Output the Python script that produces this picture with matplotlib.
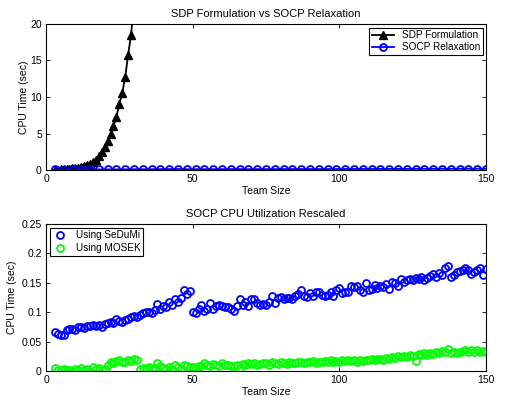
import matplotlib
matplotlib.use("Agg")
import matplotlib.pyplot as plt
from matplotlib.ticker import FuncFormatter

plt.rcParams['font.family'] = ['Liberation Sans', 'DejaVu Sans']

# top panel data
sdp_x = list(range(3, 31))
sdp_t = [0.05, 0.06, 0.08, 0.12, 0.15, 0.18, 0.22, 0.27, 0.33, 0.40, 0.50,
         0.65, 0.85, 1.1, 1.4, 1.9, 2.5, 3.2, 4.0, 4.9, 6.0, 7.3, 9.0, 10.6,
         12.7, 15.8, 18.5, 23.0]
socp_x = list(range(3, 151, 3))
socp_t = [0.07, 0.06, 0.07, 0.07, 0.08, 0.08, 0.08, 0.09, 0.09, 0.10,
          0.10, 0.11, 0.12, 0.12, 0.14, 0.10, 0.11, 0.11, 0.11, 0.11,
          0.12, 0.12, 0.11, 0.12, 0.12, 0.12, 0.13, 0.13, 0.13, 0.13,
          0.13, 0.13, 0.14, 0.14, 0.14, 0.14, 0.14, 0.15, 0.15, 0.15,
          0.15, 0.16, 0.16, 0.16, 0.17, 0.16, 0.17, 0.17, 0.17, 0.17]

# bottom panel data
team = list(range(3, 151))
sedumi = [0.067, 0.063, 0.061, 0.062, 0.069, 0.071, 0.072, 0.070, 0.074, 0.075,
          0.073, 0.077, 0.076, 0.078, 0.076, 0.079, 0.075, 0.080, 0.082, 0.083,
          0.081, 0.089, 0.085, 0.083, 0.086, 0.089, 0.091, 0.094, 0.092, 0.096,
          0.098, 0.101, 0.100, 0.099, 0.104, 0.114, 0.106, 0.110, 0.108, 0.118,
          0.113, 0.122, 0.118, 0.125, 0.138, 0.131, 0.136,
          0.100, 0.098, 0.105, 0.112, 0.102, 0.105, 0.115, 0.105, 0.110, 0.112,
          0.110, 0.109, 0.108, 0.106, 0.102, 0.110, 0.122, 0.112, 0.117, 0.110,
          0.123, 0.122, 0.116, 0.113, 0.114, 0.112, 0.118, 0.128, 0.115, 0.125,
          0.126, 0.122, 0.124, 0.125, 0.123, 0.127, 0.131, 0.138, 0.128, 0.126,
          0.133, 0.128, 0.134, 0.135, 0.129, 0.127, 0.130, 0.134, 0.128, 0.138,
          0.141, 0.133, 0.135, 0.134, 0.145, 0.143, 0.144, 0.138, 0.134, 0.149,
          0.137, 0.140, 0.147, 0.141, 0.145, 0.143, 0.148, 0.140, 0.152, 0.150,
          0.144, 0.156, 0.152, 0.154, 0.157, 0.155, 0.158, 0.157, 0.160, 0.154,
          0.158, 0.162, 0.165, 0.160, 0.166, 0.163, 0.175, 0.178, 0.160, 0.163,
          0.168, 0.170, 0.172, 0.176, 0.172, 0.165, 0.168, 0.172, 0.175, 0.164,
          0.173]
mosek = [0.005, 0.002, 0.001, 0.003, 0.001, 0.002, 0.000, 0.004, 0.001, 0.005,
         0.002, 0.004, 0.000, 0.006, 0.003, 0.005, 0.002, 0.004, 0.010, 0.016,
         0.014, 0.017, 0.019, 0.015, 0.016, 0.019, 0.017, 0.020, 0.018, 0.003,
         0.005, 0.004, 0.006, 0.003, 0.005, 0.013, 0.008, 0.005, 0.003, 0.007,
         0.004, 0.011, 0.006, 0.004, 0.010, 0.009, 0.006, 0.007, 0.006, 0.008,
         0.009, 0.013, 0.010, 0.008, 0.012, 0.010, 0.009, 0.013, 0.010, 0.011,
         0.009, 0.008, 0.011, 0.005, 0.012, 0.011, 0.013, 0.012, 0.014, 0.011,
         0.012, 0.014, 0.013, 0.011, 0.015, 0.013, 0.012, 0.016, 0.014, 0.012,
         0.015, 0.013, 0.014, 0.016, 0.015, 0.014, 0.016, 0.015, 0.017, 0.014,
         0.016, 0.015, 0.017, 0.016, 0.018, 0.015, 0.017, 0.016, 0.019, 0.017,
         0.018, 0.017, 0.019, 0.016, 0.018, 0.017, 0.019, 0.018, 0.020, 0.019,
         0.021, 0.020, 0.019, 0.022, 0.021, 0.024, 0.022, 0.026, 0.023, 0.025,
         0.024, 0.027, 0.026, 0.017, 0.029, 0.027, 0.030, 0.028, 0.031, 0.029,
         0.033, 0.030, 0.034, 0.032, 0.038, 0.031, 0.033, 0.030, 0.032, 0.034,
         0.036, 0.033, 0.035, 0.032, 0.036, 0.033, 0.034, 0.032]

W, H = 505, 401
fig = plt.figure(figsize=(W / 100, H / 100), dpi=100)
ax1 = fig.add_axes([46 / W, 1 - 170 / H, 440 / W, 146 / H])
ax2 = fig.add_axes([46 / W, 1 - 371 / H, 440 / W, 147 / H])


def matlab_style(ax):
    ax.tick_params(direction='in', top=True, right=True, labelsize=7.5,
                   length=3, width=0.6, pad=3)
    for s in ax.spines.values():
        s.set_linewidth(0.8)


ax1.plot(sdp_x, sdp_t, '-^', color='k', mfc='k', ms=6, lw=1.3,
         label='SDP Formulation')
ax1.plot(socp_x, socp_t, '-o', color=(0, 0, 1), mfc='none', ms=5, mew=1.3,
         lw=1.3, label='SOCP Relaxation')
ax1.set_xlim(0, 150)
ax1.set_ylim(0, 20)
ax1.set_xticks([0, 50, 100, 150])
ax1.set_yticks([0, 5, 10, 15, 20])
ax1.set_title('SDP Formulation vs SOCP Relaxation', fontsize=8, pad=5)
ax1.set_xlabel('Team Size', fontsize=7.5, labelpad=1)
ax1.set_ylabel('CPU Time (sec)', fontsize=7.5, labelpad=1)
matlab_style(ax1)
leg1 = ax1.legend(loc='upper right', fontsize=7.2, fancybox=False,
                  edgecolor='k', framealpha=1, borderpad=0.25,
                  handlelength=2.2, labelspacing=0.25, borderaxespad=0.35)
leg1.get_frame().set_linewidth(0.8)

ax2.plot(team, sedumi, 'o', color=(0, 0, 1), mfc='none', ms=5, mew=1.3,
         label='Using SeDuMi')
ax2.plot(team, mosek, 'o', color=(0, 1, 0), mfc='none', ms=5, mew=1.3,
         label='Using MOSEK')
ax2.set_xlim(0, 150)
ax2.set_ylim(0, 0.25)
ax2.set_xticks([0, 50, 100, 150])
ax2.set_yticks([0, 0.05, 0.1, 0.15, 0.2, 0.25])
ax2.yaxis.set_major_formatter(FuncFormatter(lambda v, p: '%g' % round(v, 2)))
ax2.set_title('SOCP CPU Utilization Rescaled', fontsize=8, pad=5)
ax2.set_xlabel('Team Size', fontsize=7.5, labelpad=1)
ax2.set_ylabel('CPU Time (sec)', fontsize=7.5, labelpad=3)
matlab_style(ax2)
leg2 = ax2.legend(loc='upper left', fontsize=7.2, fancybox=False,
                  edgecolor='k', framealpha=1, borderpad=0.25,
                  handlelength=1.5, labelspacing=0.25, borderaxespad=0.4)
leg2.get_frame().set_linewidth(0.8)

fig.savefig('out.png', dpi=100)
